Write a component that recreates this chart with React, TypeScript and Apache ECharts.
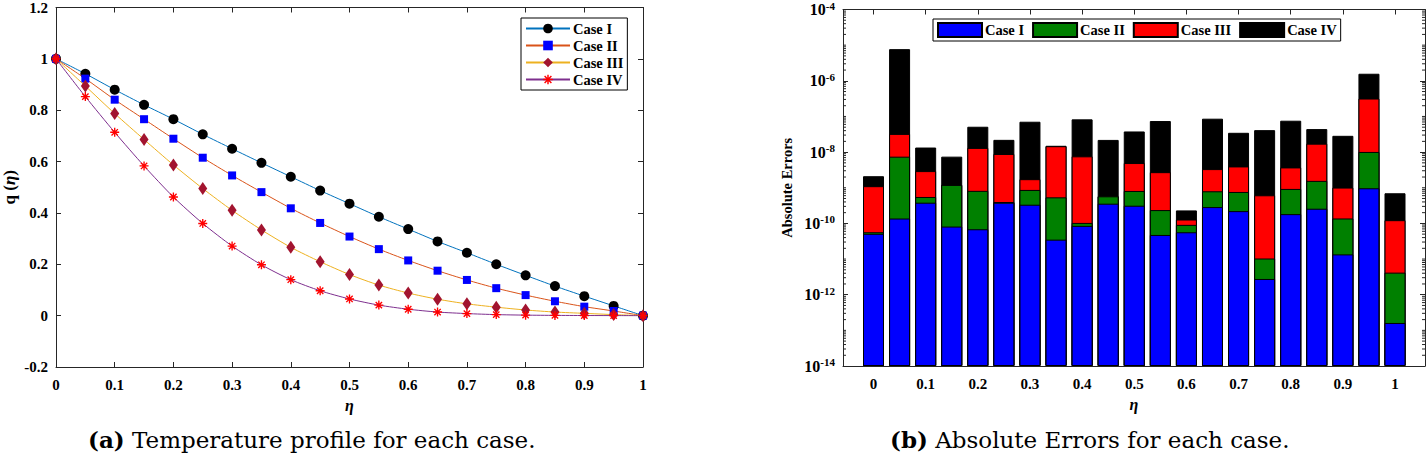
import React, { useEffect, useRef } from 'react';
import * as echarts from 'echarts';

// ---------- data ----------
const eta = [0, 0.05, 0.1, 0.15, 0.2, 0.25, 0.3, 0.35, 0.4, 0.45, 0.5, 0.55, 0.6, 0.65, 0.7, 0.75, 0.8, 0.85, 0.9, 0.95, 1];

const qCaseI = [1, 0.942, 0.88, 0.821, 0.765, 0.706, 0.65, 0.595, 0.541, 0.487, 0.436, 0.385, 0.337, 0.289, 0.245, 0.2, 0.157, 0.115, 0.076, 0.038, 0];
const qCaseII = [1, 0.923, 0.841, 0.765, 0.689, 0.615, 0.546, 0.481, 0.418, 0.361, 0.308, 0.259, 0.215, 0.175, 0.139, 0.107, 0.08, 0.056, 0.035, 0.018, 0];
const qCaseIII = [1, 0.894, 0.787, 0.686, 0.587, 0.495, 0.41, 0.334, 0.266, 0.21, 0.16, 0.119, 0.088, 0.064, 0.046, 0.033, 0.022, 0.014, 0.009, 0.004, 0];
const qCaseIV = [1, 0.853, 0.714, 0.583, 0.462, 0.359, 0.271, 0.198, 0.14, 0.097, 0.065, 0.041, 0.025, 0.014, 0.008, 0.004, 0.002, 0.001, 0.0005, 0.0002, 0];

const errCaseI = [5.1e-11, 1.37e-10, 3.81e-10, 8.15e-11, 6.85e-11, 3.81e-10, 3.34e-10, 3.5e-11, 8.51e-11, 3.57e-10, 3.13e-10, 4.74e-11, 5.64e-11, 2.87e-10, 2.21e-10, 2.76e-12, 1.82e-10, 2.58e-10, 1.35e-11, 9.68e-10, 1.61e-13];
const errCaseII = [5.5e-12, 7.3e-9, 1.7e-10, 1.12e-9, 7.5e-10, 1.7e-11, 5.35e-10, 5.03e-10, 1.8e-11, 2.18e-10, 5.0e-10, 1.89e-10, 3.46e-11, 5.09e-10, 5.41e-10, 7.6e-12, 7.45e-10, 1.3e-9, 1.24e-10, 9.13e-9, 4.0e-12];
const errCaseIII = [1.05e-9, 2.5e-8, 2.38e-9, 1e-12, 1.23e-8, 8.45e-9, 8.7e-10, 1.41e-8, 7.5e-9, 1e-12, 4.12e-9, 2.5e-9, 3.75e-11, 2.54e-9, 3.2e-9, 6.04e-10, 2.79e-9, 1.57e-8, 8.73e-10, 3.08e-7, 1.19e-10];
const errCaseIV = [1.0e-9, 7.7e-6, 1.05e-8, 6.25e-9, 3.83e-8, 1.32e-8, 6.94e-8, 4e-10, 7.52e-8, 2.14e-8, 3.3e-8, 7.16e-8, 1.03e-10, 8.32e-8, 3.08e-8, 4.07e-8, 7.22e-8, 2.69e-8, 2.76e-8, 1.26e-6, 5.77e-10];

const caseNames = ['Case I', 'Case II', 'Case III', 'Case IV'];
const etaTickLabels = [0, 0.1, 0.2, 0.3, 0.4, 0.5, 0.6, 0.7, 0.8, 0.9, 1];
const logExponentMin = -14; // 10^-14 .. 10^-4
const logExponentMax = -4;
const captionA = ['(a)', 'Temperature profile for each case.'];
const captionB = ['(b)', 'Absolute Errors for each case.'];

// ---------- styles ----------
const FONT = '"Liberation Serif", "Times New Roman", serif';
const CAP_FONT = '"DejaVu Serif", serif';
const AX = '#262626';
const X_MIN = -0.0585;
const X_MAX = 1.0575;
const STAR =
  'path://M-1,-0.15L1,-0.15L1,0.15L-1,0.15Z M-0.15,-1L0.15,-1L0.15,1L-0.15,1Z M-0.601,-0.813L0.813,0.601L0.601,0.813L-0.813,-0.601Z M-0.813,0.601L0.601,-0.813L0.813,-0.601L-0.601,0.813Z';

const tickLabel = { fontFamily: FONT, fontWeight: 'bold' as const, fontSize: 15, color: '#000' };
const legendText = { fontFamily: FONT, fontWeight: 'bold' as const, fontSize: 14.5, color: '#000' };

function buildOption() {
  const toLog = (v: number) => Math.log10(v) - logExponentMin;
  const errSeries = [errCaseI, errCaseII, errCaseIII, errCaseIV];
  // cumulative tops of the stacked segments
  const cumTops = errSeries.map((_, k) =>
    eta.map((_, i) => {
      let s = 0;
      for (let j = 0; j <= k; j++) s += errSeries[j][i];
      return s;
    })
  );

  const span = logExponentMax - logExponentMin;
  const logMinor: number[] = [];
  for (let e = 0; e < span; e++) {
    for (let k = 1; k <= 9; k++) {
      if (k === 1 && e % 2 === 0) continue;
      logMinor.push(e + Math.log10(k));
    }
  }

  const lineDefs = [
    { data: qCaseI, line: '#0072BD', color: '#000000', symbol: 'circle', size: 10 },
    { data: qCaseII, line: '#D95319', color: '#0000FF', symbol: 'rect', size: 8 },
    { data: qCaseIII, line: '#EDB120', color: '#A2142F', symbol: 'diamond', size: [9, 13] },
    { data: qCaseIV, line: '#7E2F8E', color: '#FF0000', symbol: STAR, size: 9 },
  ];

  const lineSeries = lineDefs.map((d, k) => ({
    type: 'line',
    name: caseNames[k],
    xAxisIndex: 0,
    yAxisIndex: 0,
    data: eta.map((x, i) => [x, d.data[i]]),
    smooth: 0.25,
    showAllSymbol: true,
    symbol: d.symbol,
    symbolSize: d.size,
    lineStyle: { color: d.line, width: 1 },
    itemStyle: { color: d.color, borderWidth: 0 },
    z: 3 + k,
  }));

  const barColors = ['#0000FF', '#008000', '#FF0000', '#000000'];
  // Drawn from the total down, so each lower cumulative bar sits on top.
  const barSeries = [3, 2, 1, 0].map((k) => ({
    type: 'bar',
    name: caseNames[k] + ' ',
    xAxisIndex: 2,
    yAxisIndex: 2,
    barWidth: 21,
    barGap: '-100%',
    data: eta.map((x, i) => [x, toLog(cumTops[k][i])]),
    itemStyle: { color: barColors[k], borderColor: '#000', borderWidth: 1 },
    z: 2,
  }));

  const logTickSeries = {
    type: 'custom',
    xAxisIndex: 2,
    yAxisIndex: 2,
    silent: true,
    z: 5,
    data: logMinor.map((v) => [X_MIN, v]),
    renderItem: (params: any, api: any) => {
      const v = api.value(1);
      const pl = api.coord([X_MIN, v]);
      const pr = api.coord([X_MAX, v]);
      return {
        type: 'group',
        children: [
          { type: 'line', shape: { x1: pl[0], y1: pl[1], x2: pl[0] + 3, y2: pl[1] }, style: { stroke: AX, lineWidth: 1 } },
          { type: 'line', shape: { x1: pr[0], y1: pr[1], x2: pr[0] - 3, y2: pr[1] }, style: { stroke: AX, lineWidth: 1 } },
        ],
      };
    },
  };

  const axisLine = { show: true, onZero: false, lineStyle: { color: AX, width: 1 } };
  const insideTick = { show: true, inside: true, length: 5, lineStyle: { color: AX } };
  const fmt1 = (v: number) => String(Math.round(v * 10) / 10);
  const etaName = { fontFamily: FONT, fontWeight: 'bold', fontStyle: 'italic', fontSize: 16, color: '#000' };

  const caption = (left: number, parts: string[]) => ({
    type: 'text',
    left,
    top: 428,
    style: {
      text: `{b|${parts[0]}} ${parts[1]}`,
      fontFamily: CAP_FONT,
      fontSize: 23,
      fill: '#000',
      rich: { b: { fontFamily: CAP_FONT, fontSize: 23, fontWeight: 'bold', fill: '#000' } },
    },
  });

  return {
    animation: false,
    backgroundColor: '#ffffff',
    grid: [
      { left: 56, top: 7, width: 587, height: 360 },
      { left: 843, top: 8, width: 582, height: 358 },
    ],
    legend: [
      {
        data: caseNames,
        orient: 'vertical',
        left: 521,
        top: 18,
        itemWidth: 44,
        itemHeight: 12,
        itemGap: 2,
        padding: [3, 4, 3, 4],
        borderColor: '#000',
        borderWidth: 1,
        backgroundColor: '#fff',
        selectedMode: false,
        textStyle: { ...legendText, padding: [0, 0, 0, -2] },
      },
      {
        data: caseNames.map((n) => n + ' '),
        orient: 'horizontal',
        left: 933,
        top: 19,
        itemWidth: 44,
        itemHeight: 14,
        itemGap: 8,
        padding: [3, 4, 3, 4],
        borderColor: '#000',
        borderWidth: 1,
        backgroundColor: '#fff',
        selectedMode: false,
        icon: 'rect',
        formatter: (n: string) => n.trim(),
        textStyle: { ...legendText, padding: [0, 0, 0, -2] },
      },
    ],
    xAxis: [
      {
        gridIndex: 0, type: 'value', min: 0, max: 1, interval: 0.1, position: 'bottom',
        axisLine, axisTick: insideTick, splitLine: { show: false },
        axisLabel: { ...tickLabel, margin: 10, formatter: fmt1 },
        name: 'η', nameLocation: 'middle', nameGap: 30, nameTextStyle: etaName,
      },
      {
        gridIndex: 0, type: 'value', min: 0, max: 1, interval: 0.1, position: 'top',
        axisLine, axisTick: insideTick, splitLine: { show: false }, axisLabel: { show: false },
      },
      {
        gridIndex: 1, type: 'value', min: X_MIN, max: X_MAX, position: 'bottom',
        axisLine, splitLine: { show: false },
        axisTick: { ...insideTick, customValues: etaTickLabels },
        axisLabel: { ...tickLabel, margin: 10, customValues: etaTickLabels, formatter: fmt1 },
        name: 'η', nameLocation: 'middle', nameGap: 30, nameTextStyle: etaName,
      },
      {
        gridIndex: 1, type: 'value', min: X_MIN, max: X_MAX, position: 'top',
        axisLine, splitLine: { show: false },
        axisTick: { ...insideTick, customValues: etaTickLabels },
        axisLabel: { show: false },
      },
    ],
    yAxis: [
      {
        gridIndex: 0, type: 'value', min: -0.2, max: 1.2, interval: 0.2, position: 'left',
        axisLine, axisTick: insideTick, splitLine: { show: false },
        axisLabel: { ...tickLabel, margin: 8, formatter: fmt1 },
        name: '{a|q (}{b|η}{a|)}', nameLocation: 'middle', nameGap: 38,
        nameTextStyle: {
          fontFamily: FONT, fontWeight: 'bold', fontSize: 17, color: '#000',
          rich: {
            a: { fontFamily: FONT, fontWeight: 'bold', fontSize: 17, color: '#000' },
            b: { fontFamily: FONT, fontWeight: 'bold', fontStyle: 'italic', fontSize: 17, color: '#000' },
          },
        },
      },
      {
        gridIndex: 0, type: 'value', min: -0.2, max: 1.2, interval: 0.2, position: 'right',
        axisLine, axisTick: insideTick, splitLine: { show: false }, axisLabel: { show: false },
      },
      {
        gridIndex: 1, type: 'value', min: 0, max: logExponentMax - logExponentMin, interval: 2, position: 'left',
        axisLine, axisTick: insideTick, splitLine: { show: false },
        axisLabel: {
          margin: 8,
          formatter: (v: number) => `{b|10}{s|${Math.round(v + logExponentMin)}}`,
          rich: {
            b: { ...tickLabel, fontSize: 16 },
            s: { ...tickLabel, fontSize: 11, verticalAlign: 'bottom', padding: [0, 0, 8, 0] },
          },
        },
        name: 'Absolute Errors', nameLocation: 'middle', nameGap: 49,
        nameTextStyle: { fontFamily: FONT, fontWeight: 'bold', fontSize: 14.5, color: '#000' },
      },
      {
        gridIndex: 1, type: 'value', min: 0, max: logExponentMax - logExponentMin, interval: 2, position: 'right',
        axisLine, axisTick: insideTick, splitLine: { show: false }, axisLabel: { show: false },
      },
    ],
    series: [...lineSeries, ...barSeries, logTickSeries],
    graphic: [caption(88, captionA), caption(890, captionB)],
  };
}

export default function App() {
  const ref = useRef<HTMLDivElement>(null);
  useEffect(() => {
    document.body.style.margin = '0';
    const chart = echarts.init(ref.current as HTMLDivElement, null, { renderer: 'svg' });
    chart.setOption(buildOption() as any);
    return () => chart.dispose();
  }, []);
  return <div ref={ref} style={{ width: 1427, height: 462 }} />;
}
